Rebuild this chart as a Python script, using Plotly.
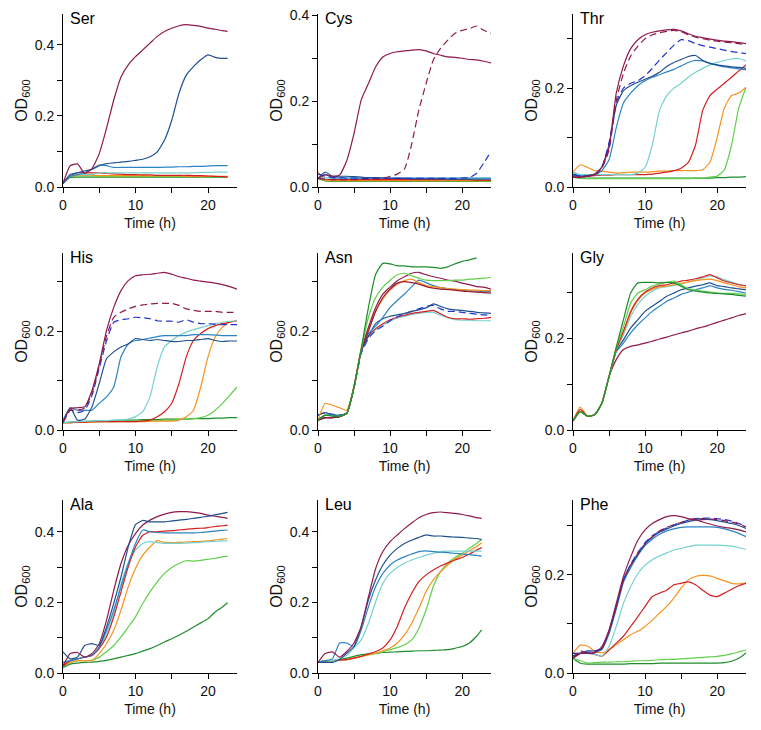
import plotly.graph_objects as go
from plotly.subplots import make_subplots

# time grids (h)
t_full = [0, 1, 2, 3, 4, 5, 6, 7, 8, 9, 10, 11, 12, 13, 14, 15, 16, 17, 18, 19, 20, 21, 22, 23, 24]
t_short = [0, 1, 2, 3, 4, 5, 6, 7, 8, 9, 10, 11, 12, 13, 14, 15, 16, 17, 18, 19, 20, 21, 22, 22.7]

# Ser (OD600, t_short)
ser_maroon = [0.01, 0.06, 0.065, 0.038, 0.052, 0.094, 0.165, 0.245, 0.31, 0.344, 0.367, 0.386, 0.405, 0.424, 0.438, 0.447, 0.454, 0.457, 0.455, 0.452, 0.447, 0.444, 0.44, 0.438]
ser_navy = [0.01, 0.035, 0.04, 0.045, 0.05, 0.06, 0.066, 0.068, 0.07, 0.072, 0.075, 0.078, 0.085, 0.099, 0.132, 0.188, 0.264, 0.315, 0.339, 0.358, 0.372, 0.365, 0.362, 0.362]
ser_steel = [0.01, 0.03, 0.035, 0.04, 0.05, 0.062, 0.06, 0.055, 0.055, 0.055, 0.055, 0.055, 0.055, 0.055, 0.056, 0.056, 0.057, 0.057, 0.058, 0.058, 0.059, 0.06, 0.06, 0.06]
ser_cyan = [0.01, 0.03, 0.035, 0.035, 0.035, 0.04, 0.04, 0.04, 0.04, 0.04, 0.04, 0.04, 0.04, 0.04, 0.04, 0.04, 0.04, 0.04, 0.04, 0.041, 0.041, 0.042, 0.042, 0.042]
ser_red = [0.01, 0.03, 0.04, 0.04, 0.04, 0.04, 0.038, 0.037, 0.036, 0.035, 0.035, 0.034, 0.034, 0.033, 0.033, 0.033, 0.033, 0.033, 0.032, 0.032, 0.031, 0.03, 0.029, 0.028]
ser_orange = [0.01, 0.03, 0.033, 0.033, 0.033, 0.032, 0.032, 0.032, 0.032, 0.032, 0.032, 0.032, 0.031, 0.031, 0.031, 0.031, 0.031, 0.03, 0.03, 0.03, 0.03, 0.03, 0.03, 0.03]
ser_lgreen = [0.01, 0.03, 0.031, 0.031, 0.031, 0.03, 0.03, 0.03, 0.03, 0.03, 0.03, 0.03, 0.03, 0.03, 0.03, 0.03, 0.03, 0.03, 0.03, 0.029, 0.029, 0.029, 0.029, 0.029]
ser_dgreen = [0.01, 0.027, 0.028, 0.028, 0.028, 0.028, 0.028, 0.028, 0.028, 0.028, 0.028, 0.028, 0.028, 0.028, 0.028, 0.028, 0.028, 0.028, 0.028, 0.028, 0.028, 0.028, 0.028, 0.028]

# Cys
cys_maroon = [0.02, 0.028, 0.025, 0.028, 0.062, 0.125, 0.203, 0.241, 0.28, 0.303, 0.311, 0.315, 0.317, 0.319, 0.32, 0.317, 0.311, 0.307, 0.303, 0.302, 0.3, 0.297, 0.296, 0.293, 0.289]
cys_maroon_d = [0.02, 0.018, 0.017, 0.017, 0.017, 0.017, 0.018, 0.018, 0.019, 0.02, 0.025, 0.03, 0.042, 0.1, 0.18, 0.241, 0.296, 0.323, 0.342, 0.358, 0.365, 0.369, 0.375, 0.365, 0.358]
cys_blue_d = [0.03, 0.025, 0.022, 0.022, 0.021, 0.021, 0.02, 0.02, 0.02, 0.02, 0.02, 0.02, 0.02, 0.02, 0.02, 0.02, 0.02, 0.02, 0.02, 0.02, 0.021, 0.022, 0.032, 0.056, 0.083]
cys_navy = [0.02, 0.035, 0.025, 0.025, 0.025, 0.024, 0.023, 0.022, 0.022, 0.021, 0.02, 0.02, 0.02, 0.019, 0.019, 0.019, 0.019, 0.019, 0.018, 0.018, 0.018, 0.018, 0.018, 0.018, 0.018]
cys_steel = [0.02, 0.03, 0.022, 0.021, 0.021, 0.021, 0.021, 0.021, 0.021, 0.021, 0.021, 0.021, 0.021, 0.021, 0.021, 0.021, 0.021, 0.021, 0.021, 0.021, 0.021, 0.021, 0.021, 0.021, 0.021]
cys_cyan = [0.02, 0.022, 0.02, 0.02, 0.02, 0.02, 0.02, 0.02, 0.02, 0.02, 0.02, 0.02, 0.02, 0.02, 0.02, 0.02, 0.02, 0.02, 0.02, 0.02, 0.02, 0.02, 0.02, 0.02, 0.02]
cys_red = [0.02, 0.018, 0.017, 0.017, 0.017, 0.017, 0.017, 0.017, 0.017, 0.017, 0.017, 0.017, 0.017, 0.017, 0.017, 0.017, 0.017, 0.017, 0.017, 0.017, 0.017, 0.017, 0.016, 0.016, 0.016]
cys_orange = [0.035, 0.016, 0.015, 0.015, 0.015, 0.015, 0.015, 0.015, 0.015, 0.015, 0.015, 0.015, 0.015, 0.015, 0.015, 0.015, 0.015, 0.015, 0.015, 0.015, 0.015, 0.015, 0.015, 0.015, 0.015]
cys_lgreen = [0.02, 0.015, 0.014, 0.014, 0.014, 0.014, 0.014, 0.014, 0.014, 0.014, 0.014, 0.014, 0.014, 0.014, 0.014, 0.014, 0.014, 0.014, 0.014, 0.014, 0.014, 0.014, 0.014, 0.014, 0.014]
cys_dgreen = [0.02, 0.014, 0.013, 0.013, 0.013, 0.013, 0.013, 0.013, 0.013, 0.013, 0.013, 0.013, 0.013, 0.013, 0.013, 0.013, 0.013, 0.013, 0.013, 0.013, 0.013, 0.013, 0.013, 0.013, 0.013]

# Thr
thr_maroon = [0.02, 0.02, 0.022, 0.025, 0.04, 0.08, 0.19, 0.245, 0.28, 0.298, 0.308, 0.313, 0.316, 0.318, 0.319, 0.316, 0.31, 0.305, 0.302, 0.299, 0.297, 0.295, 0.294, 0.292, 0.29]
thr_maroon_d = [0.02, 0.02, 0.022, 0.025, 0.038, 0.075, 0.175, 0.23, 0.265, 0.285, 0.3, 0.308, 0.312, 0.315, 0.317, 0.314, 0.308, 0.303, 0.3, 0.297, 0.295, 0.293, 0.292, 0.29, 0.288]
thr_blue_d = [0.025, 0.022, 0.022, 0.025, 0.04, 0.09, 0.17, 0.2, 0.21, 0.215, 0.225, 0.24, 0.257, 0.272, 0.287, 0.298, 0.296, 0.29, 0.286, 0.283, 0.28, 0.277, 0.274, 0.272, 0.27]
thr_navy = [0.025, 0.022, 0.023, 0.026, 0.04, 0.085, 0.165, 0.195, 0.205, 0.212, 0.218, 0.224, 0.232, 0.244, 0.252, 0.258, 0.264, 0.266, 0.256, 0.25, 0.247, 0.245, 0.243, 0.242, 0.24]
thr_steel = [0.025, 0.022, 0.023, 0.025, 0.033, 0.055, 0.12, 0.17, 0.19, 0.205, 0.215, 0.222, 0.227, 0.233, 0.238, 0.245, 0.252, 0.256, 0.255, 0.25, 0.246, 0.243, 0.241, 0.239, 0.237]
thr_cyan = [0.03, 0.025, 0.025, 0.025, 0.025, 0.025, 0.025, 0.025, 0.025, 0.028, 0.04, 0.085, 0.155, 0.185, 0.2, 0.21, 0.222, 0.232, 0.24, 0.247, 0.252, 0.256, 0.259, 0.26, 0.255]
thr_red = [0.02, 0.02, 0.022, 0.023, 0.024, 0.024, 0.025, 0.025, 0.025, 0.025, 0.025, 0.026, 0.028, 0.03, 0.033, 0.038, 0.05, 0.085, 0.155, 0.185, 0.198, 0.21, 0.222, 0.235, 0.247]
thr_orange = [0.03, 0.045, 0.04, 0.033, 0.032, 0.03, 0.028, 0.029, 0.03, 0.03, 0.03, 0.031, 0.032, 0.032, 0.033, 0.033, 0.033, 0.033, 0.035, 0.05, 0.1, 0.16, 0.185, 0.19, 0.202]
thr_lgreen = [0.03, 0.018, 0.017, 0.017, 0.017, 0.017, 0.017, 0.017, 0.017, 0.017, 0.017, 0.017, 0.017, 0.017, 0.017, 0.017, 0.017, 0.018, 0.018, 0.02, 0.022, 0.035, 0.085, 0.16, 0.202]
thr_dgreen = [0.02, 0.018, 0.018, 0.018, 0.018, 0.018, 0.018, 0.018, 0.018, 0.018, 0.018, 0.018, 0.018, 0.018, 0.018, 0.018, 0.018, 0.018, 0.018, 0.018, 0.019, 0.019, 0.02, 0.02, 0.021]

# His
his_maroon = [0.015, 0.044, 0.045, 0.047, 0.08, 0.134, 0.201, 0.248, 0.282, 0.302, 0.312, 0.314, 0.315, 0.317, 0.319, 0.315, 0.31, 0.307, 0.303, 0.301, 0.299, 0.297, 0.294, 0.29, 0.285]
his_maroon_d = [0.015, 0.04, 0.04, 0.045, 0.075, 0.13, 0.19, 0.228, 0.238, 0.245, 0.25, 0.253, 0.255, 0.256, 0.256, 0.256, 0.252, 0.245, 0.242, 0.24, 0.24, 0.24, 0.238, 0.238, 0.238]
his_blue_d = [0.015, 0.04, 0.035, 0.04, 0.07, 0.125, 0.18, 0.218, 0.223, 0.225, 0.228, 0.227, 0.225, 0.221, 0.22, 0.22, 0.218, 0.223, 0.218, 0.215, 0.215, 0.214, 0.213, 0.213, 0.213]
his_navy = [0.015, 0.045, 0.02, 0.022, 0.047, 0.094, 0.144, 0.158, 0.168, 0.174, 0.185, 0.183, 0.181, 0.183, 0.181, 0.179, 0.179, 0.181, 0.181, 0.183, 0.185, 0.181, 0.179, 0.18, 0.18]
his_steel = [0.02, 0.045, 0.04, 0.04, 0.04, 0.054, 0.067, 0.087, 0.148, 0.174, 0.181, 0.183, 0.186, 0.189, 0.191, 0.191, 0.191, 0.191, 0.193, 0.193, 0.193, 0.192, 0.191, 0.191, 0.191]
his_cyan = [0.015, 0.016, 0.017, 0.018, 0.018, 0.019, 0.019, 0.02, 0.02, 0.022, 0.027, 0.037, 0.067, 0.128, 0.168, 0.181, 0.191, 0.198, 0.203, 0.207, 0.211, 0.215, 0.218, 0.22, 0.221]
his_red = [0.015, 0.015, 0.016, 0.016, 0.017, 0.017, 0.017, 0.017, 0.017, 0.017, 0.017, 0.018, 0.02, 0.027, 0.037, 0.054, 0.094, 0.148, 0.181, 0.195, 0.205, 0.211, 0.215, 0.218, 0.221]
his_orange = [0.015, 0.015, 0.016, 0.016, 0.016, 0.017, 0.017, 0.017, 0.017, 0.017, 0.017, 0.017, 0.018, 0.018, 0.018, 0.018, 0.02, 0.027, 0.04, 0.087, 0.148, 0.188, 0.208, 0.218, 0.221]
his_lgreen = [0.015, 0.015, 0.016, 0.016, 0.016, 0.017, 0.017, 0.017, 0.018, 0.018, 0.018, 0.019, 0.019, 0.019, 0.02, 0.02, 0.021, 0.022, 0.023, 0.025, 0.03, 0.04, 0.054, 0.07, 0.087]
his_dgreen = [0.015, 0.016, 0.017, 0.017, 0.018, 0.018, 0.019, 0.019, 0.02, 0.02, 0.02, 0.021, 0.021, 0.021, 0.022, 0.022, 0.022, 0.022, 0.023, 0.023, 0.023, 0.024, 0.024, 0.025, 0.025]

# Asn
asn_dgreen = [0.02, 0.03, 0.028, 0.028, 0.034, 0.087, 0.165, 0.248, 0.315, 0.337, 0.336, 0.332, 0.332, 0.33, 0.33, 0.33, 0.329, 0.327, 0.33, 0.336, 0.341, 0.344, 0.348]
asn_lgreen = [0.02, 0.03, 0.028, 0.028, 0.034, 0.087, 0.162, 0.228, 0.268, 0.289, 0.303, 0.314, 0.317, 0.312, 0.307, 0.303, 0.302, 0.302, 0.302, 0.303, 0.303, 0.305, 0.306, 0.307, 0.309]
asn_maroon = [0.02, 0.025, 0.025, 0.027, 0.034, 0.087, 0.16, 0.208, 0.248, 0.275, 0.289, 0.302, 0.31, 0.317, 0.319, 0.314, 0.31, 0.307, 0.303, 0.301, 0.297, 0.294, 0.29, 0.289, 0.285]
asn_darkred = [0.02, 0.025, 0.025, 0.027, 0.034, 0.087, 0.16, 0.2, 0.24, 0.268, 0.285, 0.297, 0.3, 0.298, 0.295, 0.29, 0.287, 0.285, 0.284, 0.283, 0.281, 0.28, 0.279, 0.278, 0.277]
asn_orange = [0.02, 0.054, 0.05, 0.045, 0.04, 0.09, 0.165, 0.205, 0.24, 0.265, 0.283, 0.295, 0.302, 0.305, 0.298, 0.292, 0.29, 0.288, 0.286, 0.285, 0.284, 0.283, 0.283, 0.282, 0.282]
asn_steel = [0.02, 0.03, 0.03, 0.03, 0.034, 0.087, 0.16, 0.195, 0.21, 0.228, 0.248, 0.262, 0.275, 0.29, 0.303, 0.298, 0.292, 0.288, 0.286, 0.284, 0.283, 0.282, 0.281, 0.28, 0.28]
asn_navy = [0.03, 0.035, 0.03, 0.03, 0.034, 0.087, 0.16, 0.19, 0.215, 0.225, 0.23, 0.233, 0.236, 0.24, 0.243, 0.247, 0.255, 0.25, 0.245, 0.243, 0.242, 0.24, 0.238, 0.237, 0.236]
asn_blue_d = [0.03, 0.035, 0.032, 0.03, 0.034, 0.085, 0.155, 0.185, 0.201, 0.21, 0.221, 0.229, 0.235, 0.24, 0.245, 0.25, 0.252, 0.245, 0.24, 0.24, 0.238, 0.236, 0.234, 0.233, 0.232]
asn_red = [0.02, 0.025, 0.025, 0.027, 0.034, 0.087, 0.16, 0.19, 0.205, 0.215, 0.223, 0.228, 0.232, 0.236, 0.238, 0.24, 0.242, 0.235, 0.228, 0.225, 0.225, 0.224, 0.225, 0.226, 0.228]
asn_cyan = [0.02, 0.025, 0.025, 0.027, 0.034, 0.087, 0.16, 0.19, 0.203, 0.212, 0.22, 0.226, 0.23, 0.234, 0.236, 0.238, 0.238, 0.232, 0.227, 0.223, 0.222, 0.222, 0.221, 0.221, 0.221]

# Gly
gly_dgreen = [0.02, 0.04, 0.03, 0.033, 0.058, 0.116, 0.18, 0.24, 0.298, 0.32, 0.321, 0.321, 0.32, 0.321, 0.32, 0.313, 0.305, 0.302, 0.3, 0.298, 0.297, 0.296, 0.295, 0.293, 0.291]
gly_lgreen = [0.02, 0.04, 0.03, 0.033, 0.058, 0.116, 0.178, 0.225, 0.276, 0.298, 0.305, 0.313, 0.318, 0.321, 0.324, 0.316, 0.307, 0.305, 0.302, 0.3, 0.298, 0.297, 0.297, 0.296, 0.295]
gly_red = [0.02, 0.045, 0.03, 0.033, 0.058, 0.116, 0.175, 0.215, 0.258, 0.284, 0.3, 0.309, 0.314, 0.316, 0.32, 0.324, 0.326, 0.329, 0.333, 0.338, 0.331, 0.324, 0.32, 0.316, 0.314]
gly_orange = [0.02, 0.05, 0.03, 0.033, 0.058, 0.116, 0.175, 0.212, 0.255, 0.282, 0.298, 0.306, 0.311, 0.313, 0.316, 0.319, 0.322, 0.325, 0.327, 0.328, 0.325, 0.32, 0.316, 0.312, 0.309]
gly_cyan = [0.02, 0.04, 0.03, 0.033, 0.058, 0.116, 0.175, 0.207, 0.247, 0.273, 0.291, 0.302, 0.309, 0.312, 0.314, 0.318, 0.322, 0.326, 0.331, 0.335, 0.333, 0.327, 0.322, 0.317, 0.313]
gly_navy = [0.02, 0.04, 0.03, 0.033, 0.058, 0.116, 0.172, 0.196, 0.222, 0.24, 0.258, 0.269, 0.28, 0.291, 0.298, 0.305, 0.309, 0.313, 0.316, 0.32, 0.314, 0.312, 0.309, 0.307, 0.305]
gly_steel = [0.02, 0.04, 0.03, 0.033, 0.058, 0.116, 0.17, 0.189, 0.211, 0.229, 0.244, 0.258, 0.269, 0.28, 0.287, 0.295, 0.3, 0.305, 0.309, 0.314, 0.309, 0.306, 0.304, 0.301, 0.298]
gly_maroon = [0.02, 0.04, 0.03, 0.033, 0.058, 0.116, 0.153, 0.175, 0.182, 0.185, 0.189, 0.193, 0.198, 0.202, 0.207, 0.211, 0.215, 0.22, 0.224, 0.229, 0.234, 0.239, 0.244, 0.249, 0.253]

# Ala (t_short)
ala_navy = [0.06, 0.04, 0.045, 0.078, 0.083, 0.078, 0.13, 0.197, 0.272, 0.357, 0.42, 0.432, 0.428, 0.428, 0.428, 0.431, 0.433, 0.435, 0.438, 0.441, 0.444, 0.448, 0.452, 0.455]
ala_maroon = [0.02, 0.055, 0.058, 0.045, 0.055, 0.083, 0.149, 0.234, 0.31, 0.362, 0.395, 0.419, 0.433, 0.443, 0.45, 0.455, 0.457, 0.457, 0.455, 0.452, 0.447, 0.444, 0.441, 0.438]
ala_steel = [0.03, 0.035, 0.04, 0.045, 0.05, 0.074, 0.121, 0.178, 0.244, 0.31, 0.367, 0.405, 0.4, 0.398, 0.397, 0.397, 0.397, 0.397, 0.397, 0.398, 0.4, 0.402, 0.404, 0.405]
ala_red = [0.02, 0.035, 0.04, 0.045, 0.05, 0.07, 0.102, 0.159, 0.23, 0.301, 0.357, 0.39, 0.4, 0.4, 0.402, 0.403, 0.405, 0.407, 0.409, 0.41, 0.412, 0.415, 0.417, 0.419]
ala_cyan = [0.03, 0.035, 0.04, 0.045, 0.05, 0.07, 0.112, 0.168, 0.253, 0.31, 0.348, 0.367, 0.372, 0.369, 0.367, 0.367, 0.367, 0.368, 0.369, 0.37, 0.372, 0.373, 0.374, 0.374]
ala_orange = [0.02, 0.03, 0.035, 0.035, 0.036, 0.055, 0.083, 0.121, 0.178, 0.244, 0.296, 0.334, 0.357, 0.375, 0.37, 0.369, 0.37, 0.371, 0.372, 0.373, 0.374, 0.377, 0.379, 0.381]
ala_lgreen = [0.02, 0.03, 0.035, 0.035, 0.036, 0.045, 0.06, 0.078, 0.102, 0.13, 0.159, 0.197, 0.23, 0.258, 0.282, 0.299, 0.31, 0.318, 0.317, 0.319, 0.322, 0.325, 0.329, 0.331]
ala_dgreen = [0.015, 0.025, 0.028, 0.03, 0.031, 0.033, 0.036, 0.04, 0.045, 0.05, 0.055, 0.062, 0.069, 0.078, 0.088, 0.097, 0.107, 0.118, 0.13, 0.142, 0.154, 0.173, 0.187, 0.199]

# Leu (t_short)
leu_maroon = [0.03, 0.055, 0.06, 0.045, 0.061, 0.085, 0.132, 0.216, 0.296, 0.344, 0.372, 0.391, 0.409, 0.425, 0.44, 0.449, 0.454, 0.456, 0.454, 0.452, 0.449, 0.445, 0.44, 0.438]
leu_navy = [0.03, 0.03, 0.03, 0.038, 0.056, 0.075, 0.132, 0.207, 0.264, 0.306, 0.334, 0.353, 0.367, 0.376, 0.384, 0.391, 0.388, 0.388, 0.386, 0.385, 0.384, 0.382, 0.381, 0.378]
leu_steel = [0.03, 0.035, 0.04, 0.085, 0.085, 0.075, 0.122, 0.188, 0.245, 0.282, 0.306, 0.32, 0.329, 0.337, 0.344, 0.346, 0.344, 0.342, 0.341, 0.339, 0.337, 0.335, 0.333, 0.331]
leu_cyan = [0.03, 0.035, 0.035, 0.04, 0.05, 0.071, 0.094, 0.141, 0.202, 0.254, 0.282, 0.299, 0.311, 0.32, 0.327, 0.334, 0.339, 0.344, 0.345, 0.345, 0.345, 0.345, 0.345, 0.345]
leu_red = [0.03, 0.035, 0.035, 0.037, 0.038, 0.042, 0.047, 0.054, 0.061, 0.071, 0.094, 0.132, 0.184, 0.226, 0.259, 0.278, 0.292, 0.303, 0.312, 0.32, 0.327, 0.337, 0.348, 0.355]
leu_orange = [0.03, 0.035, 0.035, 0.037, 0.038, 0.042, 0.047, 0.052, 0.056, 0.063, 0.071, 0.085, 0.108, 0.141, 0.184, 0.231, 0.264, 0.287, 0.306, 0.322, 0.334, 0.346, 0.358, 0.369]
leu_lgreen = [0.03, 0.035, 0.035, 0.037, 0.038, 0.042, 0.047, 0.051, 0.055, 0.06, 0.066, 0.072, 0.08, 0.094, 0.127, 0.179, 0.245, 0.287, 0.311, 0.327, 0.339, 0.353, 0.367, 0.378]
leu_dgreen = [0.03, 0.033, 0.035, 0.038, 0.042, 0.047, 0.052, 0.054, 0.056, 0.058, 0.059, 0.06, 0.061, 0.062, 0.063, 0.063, 0.064, 0.065, 0.066, 0.07, 0.075, 0.085, 0.104, 0.122]

# Phe
phe_maroon = [0.03, 0.04, 0.04, 0.041, 0.054, 0.088, 0.142, 0.197, 0.237, 0.271, 0.292, 0.305, 0.313, 0.319, 0.321, 0.319, 0.315, 0.313, 0.308, 0.304, 0.3, 0.297, 0.295, 0.292, 0.288]
phe_maroon_d = [0.03, 0.045, 0.04, 0.042, 0.05, 0.085, 0.136, 0.19, 0.22, 0.244, 0.264, 0.278, 0.29, 0.297, 0.303, 0.307, 0.312, 0.314, 0.315, 0.314, 0.313, 0.311, 0.308, 0.304, 0.298]
phe_blue_d = [0.04, 0.04, 0.042, 0.045, 0.05, 0.085, 0.136, 0.19, 0.222, 0.246, 0.266, 0.28, 0.289, 0.296, 0.302, 0.307, 0.312, 0.315, 0.316, 0.316, 0.315, 0.313, 0.31, 0.305, 0.3]
phe_navy = [0.035, 0.04, 0.045, 0.045, 0.05, 0.085, 0.136, 0.19, 0.22, 0.242, 0.263, 0.277, 0.287, 0.294, 0.3, 0.305, 0.309, 0.312, 0.313, 0.313, 0.311, 0.308, 0.305, 0.301, 0.295]
phe_steel = [0.035, 0.04, 0.04, 0.042, 0.048, 0.08, 0.13, 0.185, 0.215, 0.24, 0.26, 0.273, 0.283, 0.29, 0.294, 0.297, 0.298, 0.298, 0.298, 0.298, 0.297, 0.294, 0.29, 0.285, 0.278]
phe_cyan = [0.035, 0.04, 0.04, 0.038, 0.034, 0.054, 0.095, 0.142, 0.176, 0.203, 0.22, 0.231, 0.239, 0.245, 0.251, 0.254, 0.258, 0.261, 0.261, 0.261, 0.261, 0.26, 0.259, 0.256, 0.252]
phe_red = [0.03, 0.04, 0.04, 0.038, 0.034, 0.047, 0.061, 0.075, 0.095, 0.115, 0.136, 0.156, 0.163, 0.169, 0.18, 0.183, 0.186, 0.18, 0.169, 0.159, 0.156, 0.163, 0.171, 0.178, 0.183]
phe_orange = [0.04, 0.057, 0.055, 0.045, 0.041, 0.047, 0.058, 0.068, 0.078, 0.085, 0.095, 0.108, 0.122, 0.136, 0.153, 0.173, 0.19, 0.197, 0.199, 0.198, 0.193, 0.188, 0.183, 0.182, 0.184]
phe_lgreen = [0.03, 0.025, 0.02, 0.021, 0.022, 0.022, 0.023, 0.023, 0.024, 0.025, 0.025, 0.026, 0.027, 0.028, 0.028, 0.029, 0.03, 0.031, 0.032, 0.033, 0.034, 0.036, 0.039, 0.043, 0.047]
phe_dgreen = [0.03, 0.02, 0.018, 0.018, 0.018, 0.018, 0.018, 0.018, 0.019, 0.019, 0.019, 0.019, 0.02, 0.02, 0.02, 0.02, 0.02, 0.02, 0.02, 0.02, 0.02, 0.021, 0.024, 0.03, 0.041]

colors = {
    "maroon": "#8e1a4e", "maroon_d": "#8e1a4e", "darkred": "#9c1a2e",
    "blue_d": "#2233cc", "navy": "#1f4f8f", "steel": "#2b84c4",
    "cyan": "#74d2d0", "red": "#d42020", "orange": "#f8921f",
    "lgreen": "#5fd04a", "dgreen": "#1e8c2a",
}

panels = [
    ("Ser", t_short, [("dgreen", ser_dgreen), ("lgreen", ser_lgreen), ("orange", ser_orange), ("red", ser_red),
                      ("cyan", ser_cyan), ("steel", ser_steel), ("navy", ser_navy), ("maroon", ser_maroon)]),
    ("Cys", t_full, [("dgreen", cys_dgreen), ("lgreen", cys_lgreen), ("orange", cys_orange), ("red", cys_red),
                     ("cyan", cys_cyan), ("steel", cys_steel), ("navy", cys_navy), ("blue_d", cys_blue_d),
                     ("maroon_d", cys_maroon_d), ("maroon", cys_maroon)]),
    ("Thr", t_full, [("dgreen", thr_dgreen), ("lgreen", thr_lgreen), ("orange", thr_orange), ("red", thr_red),
                     ("cyan", thr_cyan), ("steel", thr_steel), ("navy", thr_navy), ("blue_d", thr_blue_d),
                     ("maroon_d", thr_maroon_d), ("maroon", thr_maroon)]),
    ("His", t_full, [("dgreen", his_dgreen), ("lgreen", his_lgreen), ("orange", his_orange), ("red", his_red),
                     ("cyan", his_cyan), ("steel", his_steel), ("navy", his_navy), ("blue_d", his_blue_d),
                     ("maroon_d", his_maroon_d), ("maroon", his_maroon)]),
    ("Asn", t_full, [("cyan", asn_cyan), ("red", asn_red), ("blue_d", asn_blue_d), ("navy", asn_navy),
                     ("steel", asn_steel), ("orange", asn_orange), ("darkred", asn_darkred), ("maroon", asn_maroon),
                     ("lgreen", asn_lgreen), ("dgreen", asn_dgreen)]),
    ("Gly", t_full, [("maroon", gly_maroon), ("steel", gly_steel), ("navy", gly_navy), ("cyan", gly_cyan),
                     ("orange", gly_orange), ("red", gly_red), ("lgreen", gly_lgreen), ("dgreen", gly_dgreen)]),
    ("Ala", t_short, [("dgreen", ala_dgreen), ("lgreen", ala_lgreen), ("orange", ala_orange), ("cyan", ala_cyan),
                      ("red", ala_red), ("steel", ala_steel), ("maroon", ala_maroon), ("navy", ala_navy)]),
    ("Leu", t_short, [("dgreen", leu_dgreen), ("lgreen", leu_lgreen), ("orange", leu_orange), ("red", leu_red),
                      ("cyan", leu_cyan), ("steel", leu_steel), ("navy", leu_navy), ("maroon", leu_maroon)]),
    ("Phe", t_full, [("dgreen", phe_dgreen), ("lgreen", phe_lgreen), ("orange", phe_orange), ("red", phe_red),
                     ("cyan", phe_cyan), ("steel", phe_steel), ("navy", phe_navy), ("blue_d", phe_blue_d),
                     ("maroon_d", phe_maroon_d), ("maroon", phe_maroon)]),
]

# panel geometry: pixel boxes on the 761x730 page; the page body has an 8px margin,
# so the figure itself is 8px smaller and every box is shifted by 8px
PAD = 8
W, H = 761 - PAD, 730 - PAD
col_px = [(63, 237), (318, 491), (573, 746)]
row_px = [(14, 187), (253, 430), (500, 673)]
y_max = {"Ser": 0.487, "Cys": 0.403, "Thr": 0.35, "His": 0.358, "Asn": 0.358,
         "Gly": 0.385, "Ala": 0.49, "Leu": 0.49, "Phe": 0.353}

font = "Liberation Sans, Arial, sans-serif"
fig = make_subplots(rows=3, cols=3)

for i, (name, t, series) in enumerate(panels):
    r, c = i // 3 + 1, i % 3 + 1
    for key, vals in series:
        fig.add_trace(go.Scatter(
            x=t[:len(vals)], y=vals, mode="lines", showlegend=False, hoverinfo="skip",
            line=dict(color=colors[key], width=1.2, shape="spline", smoothing=0.5,
                      dash="7px,4px" if key.endswith("_d") else "solid")),
            row=r, col=c)
    x0, x1 = [p - PAD for p in col_px[c - 1]]
    y0, y1 = [p - PAD for p in row_px[r - 1]]
    fig.update_xaxes(domain=[x0 / W, x1 / W], range=[0, 24], row=r, col=c,
                     tickvals=[0, 5, 10, 15, 20], ticktext=["0", "", "10", "", "20"],
                     title=dict(text="Time (h)", standoff=6, font=dict(size=14)))
    ym = y_max[name]
    yt = [round(v / 10, 1) for v in range(0, int(ym * 10 + 1e-6) + 1)]
    fig.update_yaxes(domain=[1 - y1 / H, 1 - y0 / H], range=[0, ym], row=r, col=c,
                     tickvals=yt, ticktext=["%.1f" % v if round(v * 10) % 2 == 0 else "" for v in yt],
                     title=dict(text="OD<sub>600</sub>", standoff=3, font=dict(size=16)))
    fig.add_annotation(text=name, xref="x domain" if i == 0 else "x%d domain" % (i + 1),
                       yref="y domain" if i == 0 else "y%d domain" % (i + 1),
                       x=0.03, y=1.033, xanchor="left", yanchor="top", showarrow=False,
                       font=dict(size=16, color="black", family=font))

fig.update_xaxes(showline=True, linecolor="black", linewidth=1, ticks="outside", ticklen=5,
                 tickcolor="black", showgrid=False, zeroline=False, fixedrange=True,
                 automargin=False, ticklabeloverflow="allow", tickfont=dict(size=14, color="#111"))
fig.update_yaxes(showline=True, linecolor="black", linewidth=1, ticks="outside", ticklen=5,
                 tickcolor="black", showgrid=False, zeroline=False, fixedrange=True,
                 automargin=False, ticklabeloverflow="allow", tickfont=dict(size=14, color="#111"))

fig.update_layout(width=W, height=H, margin=dict(l=0, r=0, t=0, b=0, autoexpand=False),
                  plot_bgcolor="white", paper_bgcolor="white",
                  font=dict(family=font, size=14, color="#111"))

fig.write_html("out.html")
